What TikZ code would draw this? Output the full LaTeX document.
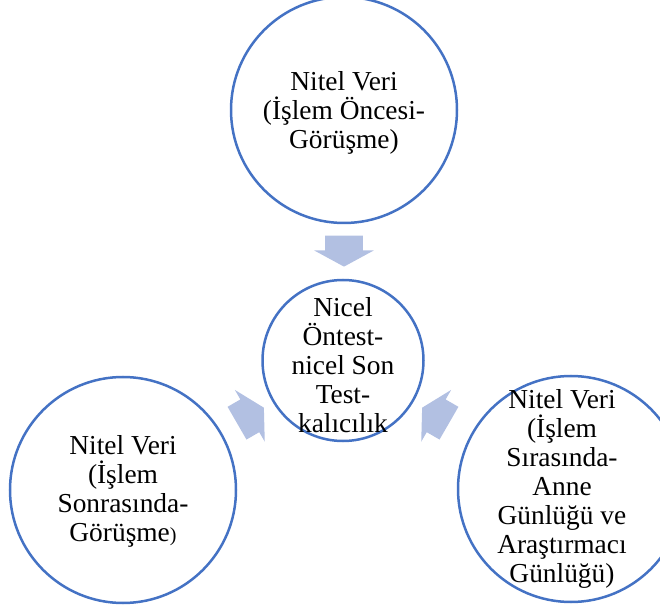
\documentclass[tikz,border=0pt]{standalone}
\usepackage{fontspec}
\setmainfont{Liberation Serif}
\usetikzlibrary{positioning,shapes.arrows}
\definecolor{ringblue}{HTML}{4472C4}
\definecolor{flowblue}{RGB}{178,192,226}
\newcommand\lft{\hspace*{-9pt}}
\tikzset{
  ring/.style={circle,draw=ringblue,line width=1.25pt,fill=white,inner sep=-8pt,
            align=center,font=\fontsize{13.7}{14.5}\selectfont},
  bigring/.style={ring,minimum size=113pt},
  hubring/.style={ring,minimum size=80.5pt},
  flow/.style={single arrow,fill=flowblue,draw=none,inner xsep=0pt,inner ysep=9.25pt,
            minimum height=15.5pt,
            single arrow head extend=5.5pt,single arrow tip angle=123},
}
\begin{document}
\begin{tikzpicture}[x=0.5pt,y=-0.5pt]
  \useasboundingbox (0,0) rectangle (660,610);
  \clip (0,0) rectangle (660,610);
  % center and the three data sources
  \node[hubring] (hub) at (343,360.5) {\rule{0pt}{14pt}Nicel\\Öntest-\\nicel Son\\Test-\\kalıcılık};
  \node[bigring] (pre) at (344,110) {\rule{0pt}{12pt}Nitel Veri\\(İşlem Öncesi-\\Görüşme)};
  \node[bigring] (post) at (123,490) {\rule{0pt}{11pt}Nitel Veri\\(İşlem\\Sonrasında-\\Görüşme{\fontsize{10}{10}\selectfont)}};
  \node[bigring] (during) at (571,489) {\lft Nitel Veri\\\lft(İşlem\\\lft Sırasında-\\\lft Anne\\\lft Günlüğü ve\\\lft Araştırmacı\\\lft Günlüğü)};
  % block arrows towards the center
  \node[flow,rotate=-90] (fpre) at (344,246) {};
  \node[flow,rotate=30] (fpost) at (246,418) {};
  \node[flow,rotate=150] (fduring) at (440,418) {};
\end{tikzpicture}
\end{document}
